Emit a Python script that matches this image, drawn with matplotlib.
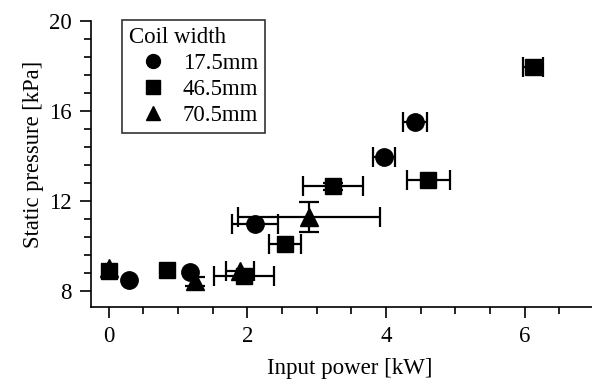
import matplotlib
matplotlib.use("Agg")
import numpy as np
import matplotlib.pyplot as plt
from matplotlib.ticker import MultipleLocator

plt.rcParams['font.family'] = ['Liberation Serif', 'DejaVu Serif']

# Coil width 17.5 mm (0 = no error bar)
c17_power = [0.30, 1.17, 2.11, 3.97, 4.42]
c17_pressure = [8.49, 8.84, 10.98, 13.94, 15.51]
c17_power_err = [0.0, 0.0, 0.33, 0.16, 0.17]
c17_pressure_err = [0.0, 0.0, 0.0, 0.0, 0.0]

# Coil width 46.5 mm
c46_power = [0.0, 0.84, 1.95, 2.55, 3.24, 4.61, 6.12]
c46_pressure = [8.87, 8.93, 8.64, 10.06, 12.64, 12.93, 17.94]
c46_power_err = [0.0, 0.0, 0.43, 0.23, 0.43, 0.31, 0.15]
c46_pressure_err = [0.0, 0.0, 0.0, 0.0, 0.15, 0.0, 0.0]

# Coil width 70.5 mm
c70_power = [0.0, 1.24, 1.90, 2.89]
c70_pressure = [9.0, 8.43, 8.90, 11.27]
c70_power_err = [0.0, 0.0, 0.20, 1.02]
c70_pressure_err = [0.0, 0.20, 0.0, 0.67]

series_labels = ['17.5mm', '46.5mm', '70.5mm']
legend_title = 'Coil width'

W, H = 592, 381
fig = plt.figure(figsize=(W / 100, H / 100), dpi=100)
ax = fig.add_axes([0.154, 0.195, 0.846, 0.75])


def bars(err):
    # zero entries carry no error bar, so hide them (no caps drawn)
    e = np.asarray(err, dtype=float)
    return np.where(e > 0, e, np.nan)


common = dict(color='black', ecolor='black', elinewidth=1.6, capsize=7,
              capthick=1.6, linestyle='none')
ax.errorbar(c17_power, c17_pressure, xerr=bars(c17_power_err), yerr=bars(c17_pressure_err),
            marker='o', markersize=12.5, label=series_labels[0], **common)
ax.errorbar(c46_power, c46_pressure, xerr=bars(c46_power_err), yerr=bars(c46_pressure_err),
            marker='s', markersize=12, label=series_labels[1], **common)
ax.errorbar(c70_power, c70_pressure, xerr=bars(c70_power_err), yerr=bars(c70_pressure_err),
            marker='^', markersize=12.5, label=series_labels[2], **common)

ax.set_xlim(-0.25, 6.97)
ax.set_ylim(7.29, 20)
ax.xaxis.set_major_locator(MultipleLocator(2))
ax.xaxis.set_minor_locator(MultipleLocator(0.5))
ax.yaxis.set_major_locator(MultipleLocator(4))
ax.yaxis.set_minor_locator(MultipleLocator(0.8))

for side in ('top', 'right'):
    ax.spines[side].set_visible(False)
for side in ('left', 'bottom'):
    ax.spines[side].set_linewidth(1.2)

ax.tick_params(which='major', direction='out', length=8, width=1.2, labelsize=16.5, pad=6)
ax.tick_params(which='minor', direction='out', length=5, width=1.2)

ax.set_xlabel('Input power [kW]', fontsize=16.5)
ax.set_ylabel('Static pressure [kPa]', fontsize=16.3)
ax.xaxis.set_label_coords(0.517, -0.179)
ax.yaxis.set_label_coords(-0.094, 0.533)

handles, labels = ax.get_legend_handles_labels()
handles = [h[0] for h in handles]
leg = fig.legend(handles, labels, title=legend_title, loc='upper left',
                 bbox_to_anchor=(122 / W, 1 - 20 / H), borderaxespad=0,
                 fontsize=16.5, title_fontsize=16.5,
                 frameon=True, fancybox=False, edgecolor='black',
                 handletextpad=0.25, borderpad=0.3, labelspacing=0.22,
                 handlelength=2.1, markerscale=0.8)
leg._legend_box.align = 'left'
leg.get_frame().set_linewidth(1.2)

fig.savefig('out.png', dpi=100)
